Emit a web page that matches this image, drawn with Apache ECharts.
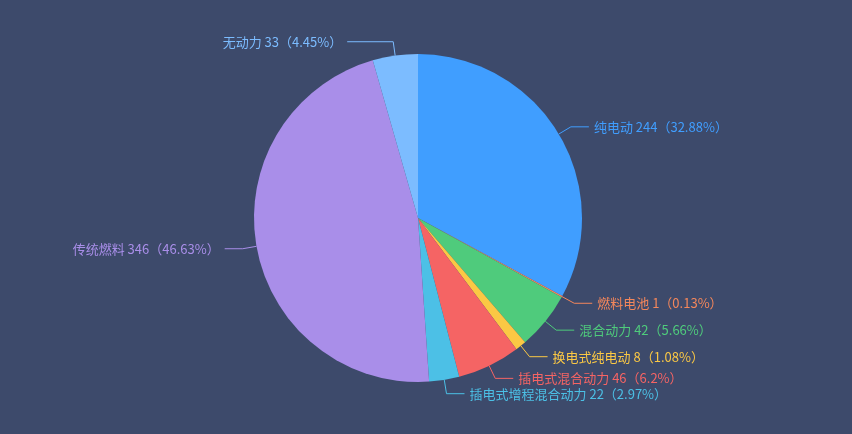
<!DOCTYPE html>
<html><head><meta charset="utf-8">
<style>html,body{margin:0;padding:0;background:#3d4a6b}#c{width:852px;height:434px}</style>
<script src="https://cdn.jsdelivr.net/npm/echarts@6/dist/echarts.min.js"></script>
</head><body><div id="c"></div>
<script>
const categories = ['纯电动','燃料电池','混合动力','换电式纯电动','插电式混合动力','插电式增程混合动力','传统燃料','无动力'];
const values = [244, 1, 42, 8, 46, 22, 346, 33];
const colors = ['#409eff','#f4875b','#4fcb7c','#fbc844','#f56464','#4cc0e6','#a98ee9','#7cbcff'];
const chart = echarts.init(document.getElementById('c'));
chart.setOption({
  backgroundColor: '#3d4a6b',
  color: colors,
  series: [{
    type: 'pie',
    center: [418, 218],
    radius: 164,
    startAngle: 90,
    data: categories.map((n, i) => ({
      name: n, value: values[i],
      label: {color: colors[i]},
      labelLine: i === 7 ? {length: 14, length2: 46, lineStyle: {color: colors[i]}} : {lineStyle: {color: colors[i]}}
    })),
    label: {
      formatter: '{b} {c}（{d}%）',
      fontSize: 13,
      fontFamily: 'Noto Sans CJK SC'
    },
    labelLine: {length: 14, length2: 18},
    itemStyle: {borderWidth: 0}
  }]
});
</script></body></html>
